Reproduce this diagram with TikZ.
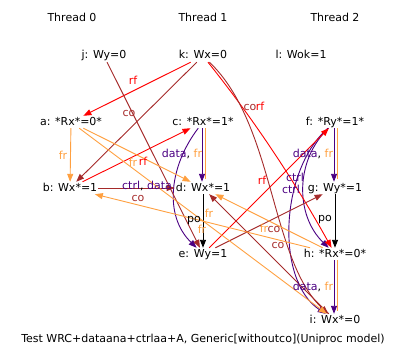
\documentclass[tikz,border=0pt]{standalone}
\usepackage{fontspec}
\setmainfont{DejaVu Sans}
\usepackage{xcolor}
\usetikzlibrary{arrows.meta}
\definecolor{rfred}{HTML}{FF0000}
\definecolor{cobrown}{HTML}{A52A2A}
\definecolor{frorange}{HTML}{FFA040}
\definecolor{depindigo}{HTML}{4B0082}

\begin{document}
\begin{tikzpicture}[x=1pt,y=1pt,
    font=\fontsize{11}{13}\selectfont,
    ev/.style={inner sep=1pt,text height=8pt,text depth=2pt},
    lbl/.style={inner sep=0pt},
    arr/.style={line width=0.9pt,-{Triangle[length=8pt,width=6pt]}},
    rfline/.style={arr,rfred},
    coline/.style={arr,cobrown},
    frline/.style={arr,frorange},
    depline/.style={arr,depindigo},
    poline/.style={arr,black}]
    \useasboundingbox (0,0) rectangle (407,-361);

    % threads
    \node (t0) at (72,-17) {Thread 0};
    \node (t1) at (203,-17) {Thread 1};
    \node (t2) at (335,-17) {Thread 2};

    % events
    \node[ev] (j) at (104,-56) {j: Wy=0};
    \node[ev] (k) at (203,-56) {k: Wx=0};
    \node[ev] (l) at (301,-56) {l: Wok=1};
    \node[ev] (a) at (71,-122) {a: *Rx*=0*};
    \node[ev] (c) at (203,-122) {c: *Rx*=1*};
    \node[ev] (f) at (335,-122) {f: *Ry*=1*};
    \node[ev] (b) at (70,-188) {b: Wx*=1};
    \node[ev] (d) at (203,-188) {d: Wx*=1};
    \node[ev] (g) at (335,-188) {g: Wy*=1};
    \node[ev] (e) at (203,-254) {e: Wy=1};
    \node[ev] (h) at (335,-254) {h: *Rx*=0*};
    \node[ev] (i) at (335,-320) {i: Wx*=0};

    % po and dependencies
    \draw[poline] (d) -- (e);
    \draw[poline] (g) -- (h);
    \draw[frline,-] ([xshift=2pt]c.south) -- ([xshift=2pt,yshift=3pt]d.north);
    \draw[depline] ([xshift=-1pt]c.south) -- ([xshift=-1pt]d.north);
    \draw[frline,-] ([xshift=2pt]f.south) -- ([xshift=2pt,yshift=3pt]g.north);
    \draw[depline] ([xshift=-1pt]f.south) -- ([xshift=-1pt]g.north);
    \draw[frline,-] ([xshift=2pt]h.south) -- ([xshift=2pt,yshift=3pt]i.north);
    \draw[depline] ([xshift=-1pt]h.south) -- ([xshift=-1pt]i.north);
    \draw[depline] (c) .. controls (170,-165) and (163,-215) .. (e);
    \draw[depline] (f) .. controls (295,-160) and (295,-215) .. (h);
    \draw[depline] (f) .. controls (280,-170) and (275,-280) .. (i);

    % rf
    \draw[rfline] (k) -- (a);
    \draw[rfline] (b) -- (c);
    \draw[rfline] (k) .. controls (255,-121) and (295,-182) .. (h);
    \draw[rfline] (e) -- (f);

    % co
    \draw[coline] (k) -- (b);
    \draw[coline] (j) -- (e);
    \draw[coline] (b) -- (d);
    \draw[coline] (k) .. controls (275,-125) and (270,-260) .. (i);
    \draw[coline] (e) -- (g);
    \draw[coline] (i) -- (d);

    % fr
    \draw[frline] (a) -- (b);
    \draw[frline] (a) -- (d);
    \draw[frline] (a) -- (i);
    \draw[frline] (h) -- (b);
    \draw[frline] (h) -- (d);

    % labels
    \node[lbl,text=rfred] (lka) at (133,-80) {rf};
    \node[lbl,text=cobrown] (lkb) at (129,-113) {co};
    \node[lbl,text=cobrown] (lki) at (250,-107) {co};
    \node[lbl,text=rfred] (lkh) at (260,-106) {rf};
    \node[lbl,text=frorange] (lab) at (63,-155) {fr};
    \node[lbl,text=frorange] (lad) at (133,-162) {fr};
    \node[lbl,text=rfred] (lbc) at (143,-161) {rf};
    \node[lbl] (lcd) at (182,-154) {\textcolor{depindigo}{data}, \textcolor{frorange}{fr}};
    \node[lbl] (lce) at (147,-186) {\textcolor{depindigo}{ctrl}, \textcolor{depindigo}{data}};
    \node[lbl,text=cobrown] (lbd) at (138,-198) {co};
    \node[lbl] (lde) at (194,-221) {po};
    \node[lbl,text=frorange] (lhd) at (209,-213) {fr};
    \node[lbl,text=frorange] (lai) at (202,-229) {fr};
    \node[lbl,text=rfred] (lef) at (262,-180) {rf};
    \node[lbl,text=depindigo] (lfh) at (295,-177) {ctrl};
    \node[lbl,text=depindigo] (lfi) at (291,-189) {ctrl};
    \node[lbl] (lfg) at (313,-154) {\textcolor{depindigo}{data}, \textcolor{frorange}{fr}};
    \node[lbl] (lgh) at (325,-220) {po};
    \node[lbl,text=frorange] (lhb) at (264,-228) {fr};
    \node[lbl,text=cobrown] (leg) at (274,-229) {co};
    \node[lbl,text=cobrown] (lid) at (278,-245) {co};
    \node[lbl] (lhi) at (313,-287) {\textcolor{depindigo}{data}, \textcolor{frorange}{fr}};

    \node (cap) at (203,-339) {Test WRC+dataana+ctrlaa+A, Generic[withoutco](Uniproc model)};
\end{tikzpicture}
\end{document}
